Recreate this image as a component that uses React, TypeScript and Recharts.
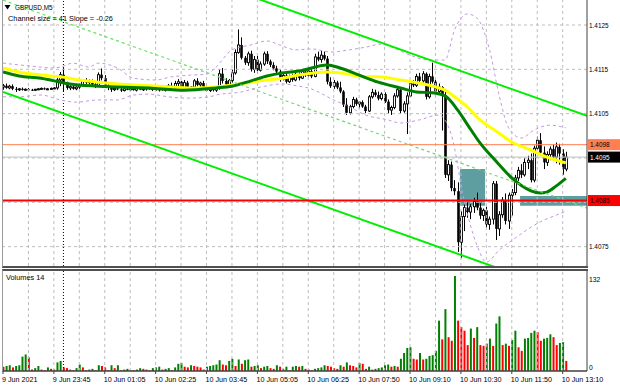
import React from 'react';
import { ComposedChart, Bar, Line, XAxis, YAxis, ReferenceLine, ReferenceArea, Cell } from 'recharts';

const FONT = '"Liberation Sans", Arial, sans-serif';

// ---- price bars (5-minute GBPUSD) ----
const OPEN = [1.4111,1.41113,1.41108,1.41112,1.41106,1.41104,1.41106,1.41104,1.41105,1.41104,
1.41103,1.41105,1.41106,1.41107,1.41105,1.41106,1.41107,1.41108,1.41126,1.41138,
1.4112,1.41108,1.41111,1.41106,1.4111,1.41115,1.41125,1.4112,1.41124,1.41116,
1.41112,1.41138,1.4113,1.41113,1.41108,1.41104,1.41107,1.41105,1.41102,1.41106,
1.41104,1.41106,1.41103,1.41107,1.41104,1.41106,1.41108,1.41105,1.41107,1.41104,
1.41106,1.41103,1.41105,1.41113,1.41108,1.41118,1.41122,1.41108,1.4112,1.41106,
1.4111,1.41124,1.41115,1.41119,1.41108,1.41102,1.41106,1.41103,1.41107,1.4114,
1.41124,1.41116,1.41125,1.41142,1.41188,1.41205,1.41176,1.41165,1.41185,1.4115,
1.41172,1.41148,1.41162,1.41185,1.41168,1.4116,1.41152,1.41145,1.41128,1.41136,
1.41122,1.41133,1.41126,1.41138,1.4113,1.41145,1.41137,1.41146,1.41134,1.41178,
1.41172,1.41182,1.41174,1.41122,1.41112,1.4112,1.41109,1.411,1.4107,1.41052,
1.41066,1.41082,1.41072,1.41076,1.41066,1.41056,1.41088,1.41098,1.41092,1.41084,
1.41094,1.41077,1.41058,1.41064,1.4109,1.41104,1.41056,1.41072,1.4109,1.41118,
1.41114,1.41134,1.41124,1.4114,1.41088,1.41134,1.41122,1.411,1.4111,1.41092,
1.40912,1.40935,1.40882,1.40875,1.4076,1.40818,1.40838,1.40828,1.4084,1.40852,
1.40838,1.4082,1.40832,1.408,1.40812,1.40892,1.4079,1.40822,1.40855,1.40808,
1.40866,1.40872,1.40905,1.40922,1.40912,1.4094,1.40945,1.409,1.40972,1.4099,
1.40962,1.4094,1.40958,1.4097,1.40952,1.40975,1.4096,1.40925];

const HIGH = [1.41117,1.41118,1.41115,1.41116,1.4111,1.41108,1.41109,1.41107,1.41108,1.41106,
1.41106,1.41108,1.41109,1.41109,1.41108,1.41109,1.4111,1.41133,1.41144,1.41153,
1.41122,1.41114,1.41114,1.41112,1.41118,1.41128,1.4113,1.41127,1.41127,1.41119,
1.41143,1.41152,1.41137,1.41118,1.41112,1.4111,1.41111,1.41109,1.41108,1.4111,
1.41108,1.4111,1.41109,1.41111,1.41108,1.4111,1.41111,1.41109,1.4111,1.41108,
1.41109,1.41107,1.41117,1.4112,1.41124,1.41128,1.41124,1.41126,1.41124,1.41112,
1.41128,1.4113,1.41122,1.41124,1.41112,1.41108,1.4111,1.41109,1.4115,1.41153,
1.4113,1.41128,1.4115,1.41195,1.4124,1.41222,1.4118,1.4119,1.41192,1.4118,
1.4118,1.41168,1.4119,1.41191,1.41172,1.41166,1.41158,1.4115,1.4114,1.41144,
1.41138,1.4114,1.41142,1.41143,1.4115,1.41152,1.4115,1.4115,1.41185,1.4119,
1.41192,1.4119,1.4118,1.41132,1.41126,1.41124,1.41122,1.41103,1.41085,1.4107,
1.41088,1.41086,1.41078,1.4108,1.4107,1.41092,1.41106,1.41104,1.411,1.41098,
1.41098,1.41082,1.41068,1.41096,1.41112,1.41108,1.41078,1.41098,1.41124,1.41126,
1.4114,1.41142,1.41146,1.41143,1.4114,1.41165,1.4113,1.41118,1.41112,1.41104,
1.40945,1.40942,1.409,1.40895,1.4083,1.40845,1.4085,1.40846,1.4086,1.40872,
1.40848,1.40836,1.4084,1.40818,1.40898,1.40898,1.4083,1.40862,1.4087,1.40872,
1.4088,1.40912,1.4093,1.40936,1.4095,1.40955,1.4096,1.40978,1.40998,1.41006,
1.40976,1.40965,1.40976,1.4098,1.40985,1.40982,1.4097,1.40964];

const LOW = [1.41104,1.41106,1.41105,1.41103,1.41099,1.41101,1.41102,1.41101,1.41103,1.41101,
1.41101,1.41103,1.41104,1.41104,1.41103,1.41104,1.41105,1.41104,1.41112,1.41099,
1.41104,1.41103,1.41104,1.41103,1.41106,1.41112,1.41117,1.41115,1.41113,1.41108,
1.4111,1.41125,1.41109,1.41103,1.41099,1.41101,1.41103,1.41099,1.411,1.41103,
1.41101,1.41102,1.411,1.41103,1.41101,1.41102,1.41104,1.41101,1.41102,1.411,
1.41102,1.411,1.41102,1.41106,1.41104,1.41106,1.41103,1.41105,1.41102,1.41101,
1.41106,1.41112,1.41108,1.41104,1.41099,1.41099,1.411,1.41099,1.41104,1.41118,
1.41112,1.41113,1.4112,1.41138,1.41185,1.41172,1.4116,1.41158,1.41145,1.41142,
1.4114,1.41145,1.41158,1.41162,1.41155,1.41148,1.4114,1.41122,1.41125,1.41118,
1.41119,1.41122,1.41123,1.41125,1.41128,1.41133,1.41134,1.4113,1.41132,1.41168,
1.41165,1.4117,1.41116,1.41108,1.41106,1.41105,1.41096,1.41065,1.41047,1.41048,
1.41062,1.41068,1.41062,1.41063,1.41051,1.41054,1.41084,1.41088,1.4108,1.4108,
1.41074,1.4105,1.41047,1.4106,1.41086,1.4105,1.41052,1.41004,1.41088,1.4111,
1.4111,1.4112,1.4112,1.41082,1.41084,1.41118,1.41094,1.41095,1.41012,1.40905,
1.40898,1.40875,1.40866,1.40738,1.40724,1.40785,1.40815,1.40812,1.40826,1.40832,
1.40812,1.40808,1.40792,1.40788,1.408,1.40765,1.40774,1.40815,1.408,1.4079,
1.4082,1.40866,1.40898,1.40905,1.40908,1.40925,1.40895,1.40895,1.40968,1.40955,
1.40925,1.40932,1.40945,1.40945,1.40938,1.40935,1.40912,1.4092];

const CLOSE = [1.41113,1.41108,1.41112,1.41106,1.41104,1.41106,1.41104,1.41105,1.41104,1.41103,
1.41105,1.41106,1.41107,1.41105,1.41106,1.41107,1.41108,1.41126,1.41138,1.4112,
1.41108,1.41111,1.41106,1.4111,1.41115,1.41125,1.4112,1.41124,1.41116,1.41112,
1.41138,1.4113,1.41113,1.41108,1.41104,1.41107,1.41105,1.41102,1.41106,1.41104,
1.41106,1.41103,1.41107,1.41104,1.41106,1.41108,1.41105,1.41107,1.41104,1.41106,
1.41103,1.41105,1.41113,1.41108,1.41118,1.41122,1.41108,1.4112,1.41106,1.4111,
1.41124,1.41115,1.41119,1.41108,1.41102,1.41106,1.41103,1.41107,1.4114,1.41124,
1.41116,1.41125,1.41142,1.41188,1.41205,1.41176,1.41165,1.41185,1.4115,1.41172,
1.41148,1.41162,1.41185,1.41168,1.4116,1.41152,1.41145,1.41128,1.41136,1.41122,
1.41133,1.41126,1.41138,1.4113,1.41145,1.41137,1.41146,1.41134,1.41178,1.41172,
1.41182,1.41174,1.41122,1.41112,1.4112,1.41109,1.411,1.4107,1.41052,1.41066,
1.41082,1.41072,1.41076,1.41066,1.41056,1.41088,1.41098,1.41092,1.41084,1.41094,
1.41077,1.41058,1.41064,1.4109,1.41104,1.41056,1.41072,1.4109,1.41118,1.41114,
1.41134,1.41124,1.4114,1.41088,1.41134,1.41122,1.411,1.4111,1.41092,1.40912,
1.40935,1.40882,1.40875,1.4076,1.40818,1.40838,1.40828,1.4084,1.40852,1.40838,
1.4082,1.40832,1.408,1.40812,1.40892,1.4079,1.40822,1.40855,1.40808,1.40866,
1.40872,1.40905,1.40922,1.40912,1.4094,1.40945,1.409,1.40972,1.4099,1.40962,
1.4094,1.40958,1.4097,1.40952,1.40975,1.4096,1.40925,1.40952];

const VOLUME = [6,7,8,5,7,8,20,23,19,2, 4,7,2,1,5,3,2,12,14,5, 4,2,1,4,9,5,1,2,3,1,
8,7,5,1,8,4,8,1,2,3, 1,1,2,4,3,2,1,4,5,6, 2,3,4,1,5,10,11,6,5,8,
7,6,5,2,6,7,8,9,15,9, 8,14,17,7,16,10,15,16,6,7, 8,4,6,7,4,3,8,6,3,6,
1,6,7,6,7,3,2,1,3,4, 5,8,7,6,4,3,8,6,12,8, 7,5,11,10,3,6,2,3,4,5,
8,9,6,7,6,17,25,32,33,17, 16,25,16,17,21,22,28,70,44,86, 47,42,132,70,61,56,36,59,46,61,
36,35,38,45,35,66,76,36,38,35, 43,56,33,28,45,46,53,56,54,42, 45,46,51,47,36,39,40,14];

// ---- indicators (bar index, price) ----
const MA_SLOW_BARS = [0,5,12,18,24,30,40,49,60,67,73,78,83,88,93,102,106,114,118,125,135,139,142,146,150,155,160,166,171,177];
const MA_SLOW_VALUES = [1.41153,1.41144,1.41137,1.41133,1.41126,1.41121,1.41115,1.41112,1.41108,1.4111,1.41115,1.41121,1.41126,1.4113,1.41137,1.41144,1.41142,1.41133,1.41133,1.41126,1.41112,1.41103,1.41088,1.41065,1.41036,1.41011,1.40986,1.40968,1.40952,1.40939];

const MA_FAST_BARS = [0,5,12,16,21,30,46,57,67,72,78,83,88,93,102,106,112,118,125,130,135,139,143,146,150,155,160,163,166,169,171,174,177];
const MA_FAST_VALUES = [1.41144,1.41135,1.4113,1.41124,1.41117,1.41112,1.41108,1.41103,1.41108,1.41112,1.41124,1.41135,1.41142,1.41146,1.4116,1.41153,1.41137,1.41121,1.41108,1.41099,1.41097,1.4109,1.41058,1.41026,1.40984,1.40943,1.40905,1.40888,1.40876,1.40871,1.40873,1.40887,1.40904];

const BAND_UP_BARS = [0,5,12,15,18,22,27,30,36,41,48,53,59,64,67,72,78,83,87,92,97,103,109,114,119,123,128,134,139,142,146,149,153,156,159,163,167,172,177];
const BAND_UP_VALUES = [1.41164,1.4116,1.41155,1.41153,1.41155,1.41164,1.41155,1.41164,1.41153,1.4113,1.41126,1.41133,1.41137,1.41139,1.41155,1.41194,1.41205,1.41214,1.41205,1.41194,1.41196,1.41189,1.41194,1.412,1.41207,1.41198,1.41182,1.41171,1.41171,1.41239,1.41275,1.41266,1.41194,1.41092,1.41018,1.40995,1.41013,1.41024,1.41018];

const BAND_LOW_BARS = [0,5,12,18,23,30,36,41,46,52,58,65,67,75,81,88,93,96,104,109,114,121,125,131,137,141,145,149,152,156,161,169,175,177];
const BAND_LOW_VALUES = [1.41088,1.41088,1.41092,1.41081,1.41076,1.41081,1.41081,1.41092,1.41094,1.41088,1.41085,1.41088,1.41092,1.41099,1.4111,1.41117,1.41112,1.41108,1.41081,1.41065,1.41047,1.41036,1.41029,1.41036,1.41047,1.41002,1.40855,1.40754,1.40715,1.40742,1.40769,1.40806,1.40824,1.4083];

// channel (start bar, start price, end bar, end price)
const CHANNEL_UPPER = [70, 1.41335, 183.65, 1.41045];
const CHANNEL_LOWER = [0, 1.41099, 183.65, 1.4063];
const CHANNEL_MID = [0, 1.41306, 183.65, 1.40837];

const LEVEL_ORANGE = 1.4098;
const LEVEL_BID = 1.40952;
const LEVEL_RED = 1.40854;
const ZONE_1 = [143.7, 151.6, 1.40842, 1.40925];
const ZONE_2 = [162.6, 190, 1.40842, 1.40864];

const PRICE_TICKS = [1.4075, 1.4105, 1.4115, 1.4125];
const GRID_PRICES = [1.4075, 1.4085, 1.4095, 1.4105, 1.4115, 1.4125];
const TIME_LABEL_BARS = [0,16,32,48,64,80,96,112,128,144,160,176];
const TIME_LABELS = ['9 Jun 2021','9 Jun 23:45','10 Jun 01:05','10 Jun 02:25','10 Jun 03:45','10 Jun 05:05','10 Jun 06:25','10 Jun 07:50','10 Jun 09:10','10 Jun 10:30','10 Jun 11:50','10 Jun 13:10'];
const DAY_SEPARATOR_BAR = 19;
const VOLUME_TICKS = [0, 132];

const X_DOMAIN = [0, 183.65];
const Y_DOMAIN = [1.407063, 1.413064];
const GRID_BARS = Array.from({ length: 22 }, (_, k) => 8 * (k + 1));

const candles = OPEN.map((o, i) => ({ i, o, h: HIGH[i], l: LOW[i], c: CLOSE[i], range: [LOW[i], HIGH[i]] }));
const volumes = VOLUME.map((v, i) => ({ i, v, up: i > 0 && v > VOLUME[i - 1] }));
const series = (bars: number[], vals: number[]) => bars.map((i, k) => ({ i, p: vals[k] }));

// horizontally condensed text (the platform font is narrower than the available ones)
function CText(props: any) {
  const { x, y, sx = 1, children, ...rest } = props;
  return (
    <text x={x} y={y} transform={`matrix(${sx} 0 0 1 ${x * (1 - sx)} 0)`} fontFamily={FONT} {...rest}>
      {children}
    </text>
  );
}

function Candle(props: any) {
  const { x, y, width, height, payload } = props;
  if (!payload || x == null || y == null) return null;
  const top = Math.min(y, y + height);
  const bot = Math.max(y, y + height);
  const span = payload.h - payload.l;
  const k = span > 0 ? (bot - top) / span : 0;
  const yo = top + (payload.h - payload.o) * k;
  const yc = top + (payload.h - payload.c) * k;
  const cx = Math.round(x + width / 2) + 0.5;
  const bt = Math.min(yo, yc);
  const bh = Math.max(Math.abs(yo - yc), 1);
  const up = payload.c >= payload.o;
  return (
    <g>
      <line x1={cx} x2={cx} y1={top} y2={bot} stroke="#000" strokeWidth={1} />
      {up ? (
        <rect x={cx - 1} y={bt} width={2} height={bh} fill="#fff" stroke="#000" strokeWidth={0.9} />
      ) : (
        <rect x={cx - 1.3} y={bt} width={2.6} height={bh} fill="#000" />
      )}
    </g>
  );
}

function PriceTag(props: any) {
  const { viewBox, text, bg, fg } = props;
  if (!viewBox) return null;
  const y = viewBox.y;
  const x = viewBox.x + viewBox.width;
  return (
    <g>
      <rect x={x + 1} y={y - 5.5} width={33} height={11} fill={bg} />
      <CText x={x + 3} y={y} sx={0.8} dy="0.35em" fontSize={8} fill={fg}>{text}</CText>
    </g>
  );
}

function PriceTick(props: any) {
  const { x, y, payload } = props;
  return (
    <CText x={x + 1} y={y} sx={0.8} dy="0.35em" fontSize={8} fill="#000" textAnchor="start">
      {Number(payload.value).toFixed(4)}
    </CText>
  );
}

function TimeTick(props: any) {
  const { x, y, payload } = props;
  const idx = TIME_LABEL_BARS.indexOf(payload.value);
  return (
    <CText x={x - 1} y={y} sx={0.9} dy="0.78em" fontSize={8} fill="#000" textAnchor="start">
      {TIME_LABELS[idx]}
    </CText>
  );
}

function VolTick(props: any) {
  const { x, y, payload } = props;
  return (
    <CText x={x + 1} y={payload.value === 0 ? y - 4 : y} sx={0.85} dy="0.35em" fontSize={8} fill="#000" textAnchor="start">
      {payload.value}
    </CText>
  );
}

export default function App() {
  const gridStroke = '#bdbdbd';
  return (
    <div style={{ position: 'absolute', left: 0, top: 0, width: 620, height: 388, background: '#fff', overflow: 'hidden' }}>
      <div style={{ position: 'absolute', left: 2, top: 0, width: 585, height: 266, borderLeft: '1px solid #9a9a9a', borderBottom: '2px solid #505050' }} />
      <div style={{ position: 'absolute', left: 2, top: 269, width: 585, height: 101, borderLeft: '1px solid #9a9a9a', borderTop: '2px solid #505050' }} />

      <div style={{ position: 'absolute', left: 0, top: 0 }}>
        <ComposedChart width={620} height={267} data={candles} margin={{ top: 0, right: 0, bottom: 1, left: 3 }}>
          <XAxis dataKey="i" type="number" domain={X_DOMAIN} allowDataOverflow hide />
          <YAxis
            orientation="right"
            domain={Y_DOMAIN}
            allowDataOverflow
            ticks={PRICE_TICKS}
            width={33}
            tickLine={false}
            tickSize={0}
            tickMargin={1}
            axisLine={{ stroke: '#404040' }}
            tick={<PriceTick />}
          />
          {GRID_PRICES.map((p) => (
            <ReferenceLine key={'hp' + p} y={p} stroke={gridStroke} strokeDasharray="3 3" />
          ))}
          {GRID_BARS.map((b) => (
            <ReferenceLine key={'vb' + b} x={b} stroke={gridStroke} strokeDasharray="3 3" />
          ))}
          <ReferenceLine x={DAY_SEPARATOR_BAR} stroke="#000" strokeDasharray="1 2" />
          <ReferenceArea x1={ZONE_1[0]} x2={ZONE_1[1]} y1={ZONE_1[2]} y2={ZONE_1[3]} fill="#5f9ea0" fillOpacity={1} stroke="none" ifOverflow="hidden" />
          <ReferenceArea x1={ZONE_2[0]} x2={ZONE_2[1]} y1={ZONE_2[2]} y2={ZONE_2[3]} fill="#5f9ea0" fillOpacity={1} stroke="none" ifOverflow="hidden" />
          <ReferenceLine y={LEVEL_BID} stroke="#c0c0c0" strokeWidth={1} label={<PriceTag text="1.4095" bg="#000" fg="#fff" />} />
          <ReferenceLine y={LEVEL_ORANGE} stroke="#ff7f50" strokeWidth={1} label={<PriceTag text="1.4098" bg="#ff7f50" fg="#000" />} />
          <Bar dataKey="range" barSize={3} shape={<Candle />} isAnimationActive={false} />
          <Line data={series(BAND_UP_BARS, BAND_UP_VALUES)} dataKey="p" type="monotone" dot={false} stroke="#c596e3" strokeWidth={1} strokeDasharray="3 3" isAnimationActive={false} />
          <Line data={series(BAND_LOW_BARS, BAND_LOW_VALUES)} dataKey="p" type="monotone" dot={false} stroke="#c596e3" strokeWidth={1} strokeDasharray="3 3" isAnimationActive={false} />
          <Line data={series(MA_SLOW_BARS, MA_SLOW_VALUES)} dataKey="p" type="monotone" dot={false} stroke="#ffff00" strokeWidth={3} isAnimationActive={false} />
          <Line data={series(MA_FAST_BARS, MA_FAST_VALUES)} dataKey="p" type="monotone" dot={false} stroke="#008000" strokeWidth={3} isAnimationActive={false} />
          <ReferenceLine segment={[{ x: CHANNEL_UPPER[0], y: CHANNEL_UPPER[1] }, { x: CHANNEL_UPPER[2], y: CHANNEL_UPPER[3] }]} stroke="#00ee00" strokeWidth={2} ifOverflow="hidden" />
          <ReferenceLine segment={[{ x: CHANNEL_LOWER[0], y: CHANNEL_LOWER[1] }, { x: CHANNEL_LOWER[2], y: CHANNEL_LOWER[3] }]} stroke="#00ee00" strokeWidth={2} ifOverflow="hidden" />
          <ReferenceLine segment={[{ x: CHANNEL_MID[0], y: CHANNEL_MID[1] }, { x: CHANNEL_MID[2], y: CHANNEL_MID[3] }]} stroke="#66e066" strokeWidth={1.2} strokeDasharray="3 3" ifOverflow="hidden" />
          <ReferenceLine y={LEVEL_RED} stroke="#ff0000" strokeWidth={2} label={<PriceTag text="1.4085" bg="#ff0000" fg="#000" />} />
        </ComposedChart>
      </div>

      <div style={{ position: 'absolute', left: 0, top: 270 }}>
        <ComposedChart width={620} height={118} data={volumes} margin={{ top: 1, right: 0, bottom: 0, left: 3 }}>
          <XAxis
            dataKey="i"
            type="number"
            domain={X_DOMAIN}
            allowDataOverflow
            ticks={TIME_LABEL_BARS}
            interval={0}
            height={17}
            tickSize={3}
            tickMargin={2}
            tickLine={{ stroke: '#404040' }}
            axisLine={{ stroke: '#404040', strokeWidth: 1.5 }}
            tick={<TimeTick />}
          />
          <YAxis
            orientation="right"
            domain={[0, 139]}
            allowDataOverflow
            ticks={VOLUME_TICKS}
            width={33}
            tickLine={false}
            tickSize={0}
            tickMargin={1}
            axisLine={{ stroke: '#404040' }}
            tick={<VolTick />}
          />
          {GRID_BARS.map((b) => (
            <ReferenceLine key={'vv' + b} x={b} stroke={gridStroke} strokeDasharray="3 3" />
          ))}
          <ReferenceLine x={DAY_SEPARATOR_BAR} stroke="#000" strokeDasharray="1 2" />
          <Bar dataKey="v" barSize={2} isAnimationActive={false}>
            {volumes.map((d) => (
              <Cell key={d.i} fill={d.up ? '#008000' : '#ff0000'} />
            ))}
          </Bar>
        </ComposedChart>
      </div>

      <svg width={620} height={388} style={{ position: 'absolute', left: 0, top: 0, pointerEvents: 'none' }}>
        <path d="M4.5 5 L10.5 5 L7.5 9.5 Z" fill="#000" />
        <CText x={15} y={7} sx={0.8} dy="0.35em" fontSize={8} fill="#000">GBPUSD,M5</CText>
        <CText x={8} y={18} sx={0.92} dy="0.35em" fontSize={8} fill="#000">Channel size = 41 Slope = -0.26</CText>
        <CText x={6} y={277} sx={0.92} dy="0.35em" fontSize={8} fill="#000">Volumes 14</CText>
      </svg>
    </div>
  );
}
